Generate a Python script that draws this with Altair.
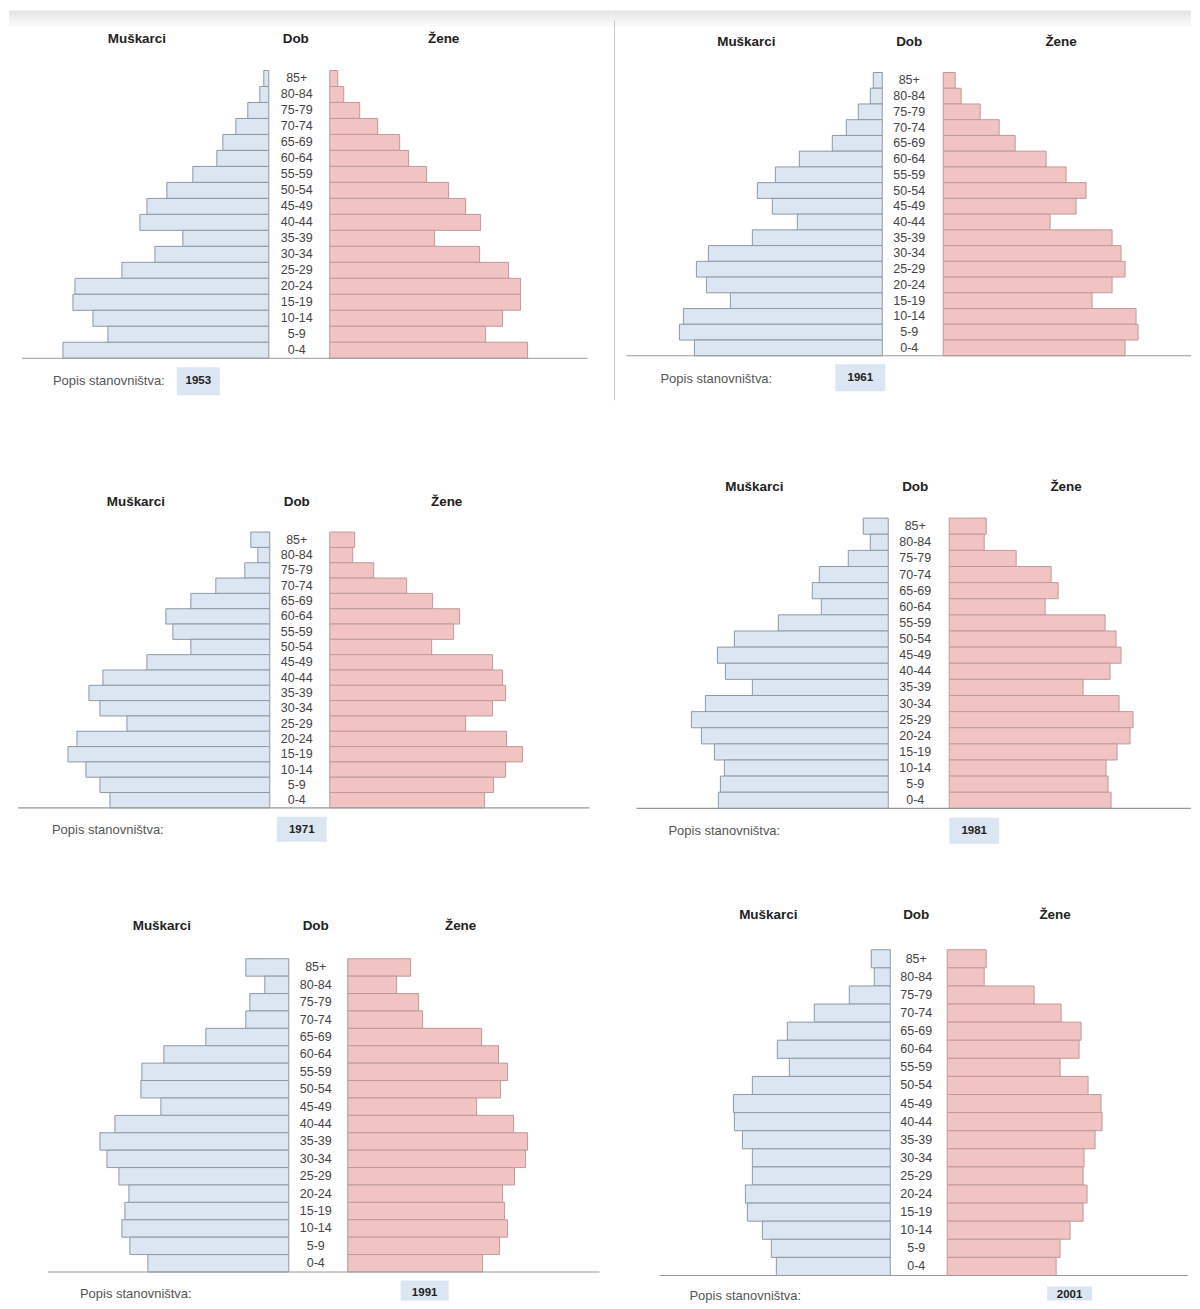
import altair as alt
import pandas as pd

# ---------------- data (bar lengths, approx. thousands) ----------------
ages = ["85+", "80-84", "75-79", "70-74", "65-69", "60-64", "55-59", "50-54", "45-49",
        "40-44", "35-39", "30-34", "25-29", "20-24", "15-19", "10-14", "5-9", "0-4"]

years = ["1953", "1961", "1971", "1981", "1991", "2001"]

male_1953 = [5, 9, 21, 33, 46, 52, 76, 102, 122, 129, 86, 114, 147, 194, 196, 176, 161, 206]
female_1953 = [8, 14, 30, 48, 70, 79, 97, 119, 136, 151, 105, 150, 179, 191, 191, 173, 156, 198]

male_1961 = [9, 12, 24, 36, 50, 83, 107, 125, 110, 85, 130, 174, 186, 176, 152, 199, 203, 188]
female_1961 = [12, 18, 37, 56, 72, 103, 123, 143, 133, 107, 169, 178, 182, 169, 149, 193, 195, 182]

male_1971 = [19, 12, 25, 54, 79, 104, 97, 79, 123, 167, 181, 170, 143, 193, 202, 184, 170, 160]
female_1971 = [25, 23, 44, 77, 103, 130, 124, 102, 163, 173, 176, 163, 136, 177, 193, 176, 164, 155]

male_1981 = [25, 18, 40, 69, 76, 67, 110, 154, 171, 163, 136, 183, 197, 187, 174, 164, 168, 170]
female_1981 = [37, 35, 67, 102, 109, 96, 156, 167, 172, 161, 134, 170, 184, 181, 168, 157, 159, 162]

male_1991 = [43, 24, 39, 43, 83, 125, 147, 148, 128, 174, 189, 182, 170, 160, 164, 167, 159, 141]
female_1991 = [63, 49, 71, 75, 134, 151, 160, 153, 129, 166, 180, 178, 167, 155, 157, 160, 152, 135]

male_2001 = [19, 16, 41, 76, 103, 113, 101, 138, 157, 156, 148, 138, 138, 145, 143, 128, 119, 114]
female_2001 = [39, 37, 87, 114, 134, 132, 113, 141, 154, 155, 148, 137, 136, 140, 136, 123, 113, 109]

hdr_men, hdr_age, hdr_women = "Muškarci", "Dob", "Žene"
footer_label = "Popis stanovništva:"

# ---------------- layout (page pixel positions) ----------------
layouts = [
    dict(ox=8, oy=8, W=604, H=400, c=299.5, g=30.5, lab=297, top=70, bot=358,
         bl=(22, 588, 358), hy=38, hx=(137, 296, 444), px=53, py=381,
         box=(177, 220, 367, 395), yx=198.5, yy=381, band=True, divider=False),
    dict(ox=612, oy=8, W=580, H=400, c=913.5, g=30.5, lab=910, top=72, bot=355.5,
         bl=(627, 1192, 355.5), hy=41, hx=(747, 910, 1062), px=661, py=378.5,
         box=(836, 886, 364, 391), yx=861, yy=378, band=True, divider=True),
    dict(ox=8, oy=408, W=604, H=450, c=300, g=30, lab=297, top=532, bot=808,
         bl=(18, 590, 808), hy=502, hx=(136, 297, 447), px=52, py=830,
         box=(277, 327, 817, 842), yx=302, yy=830, band=False, divider=False),
    dict(ox=612, oy=408, W=580, H=450, c=919.5, g=30.5, lab=916, top=518, bot=808.5,
         bl=(637, 1192, 808.5), hy=487, hx=(755, 916, 1067), px=669, py=831,
         box=(950, 1000, 818, 844), yx=975, yy=831, band=False, divider=False),
    dict(ox=8, oy=858, W=604, H=443, c=318.5, g=29.5, lab=316, top=959, bot=1272.5,
         bl=(48, 600, 1272.5), hy=926, hx=(162, 316, 461), px=80, py=1295,
         box=(401, 449, 1281, 1301), yx=425, yy=1294, band=False, divider=False),
    dict(ox=612, oy=858, W=580, H=443, c=919.5, g=28.5, lab=917, top=950, bot=1276,
         bl=(660, 1189, 1276), hy=915, hx=(769, 917, 1056), px=690, py=1297,
         box=(1048, 1093, 1287, 1301), yx=1070.5, yy=1296, band=False, divider=False),
]

series = [(male_1953, female_1953), (male_1961, female_1961), (male_1971, female_1971),
          (male_1981, female_1981), (male_1991, female_1991), (male_2001, female_2001)]

FONT = "Liberation Sans"
MALE_FILL, MALE_STROKE = "#dce6f2", "#8d99a5"
FEMALE_FILL, FEMALE_STROKE = "#f2c3c3", "#bf9a9a"

one = pd.DataFrame({"k": [0]})


def text_at(txt, x, y, L, size=12, weight="normal", color="#333", align="center"):
    return alt.Chart(one).mark_text(
        text=txt, font=FONT, fontSize=size, fontWeight=weight, color=color,
        align=align, baseline="middle"
    ).encode(x=alt.value(x - L["ox"]), y=alt.value(y - L["oy"]))


def panel(year, males, females, L):
    ox, oy, W, H, c, g = L["ox"], L["oy"], L["W"], L["H"], L["c"], L["g"]
    df = pd.DataFrame({"age": ages, "m": males, "f": females})
    xs = alt.Scale(domain=[ox - c, ox + W - c], nice=False, zero=False)
    ys = alt.Scale(domain=ages, range=[L["top"] - oy, L["bot"] - oy],
                   paddingInner=0, paddingOuter=0)

    male = alt.Chart(df).transform_calculate(
        a=f"-{g}", b=f"-{g} - datum.m"
    ).mark_bar(fill=MALE_FILL, stroke=MALE_STROKE, strokeWidth=1).encode(
        x=alt.X("a:Q", scale=xs, axis=None),
        x2="b:Q",
        y=alt.Y("age:N", scale=ys, axis=None, sort=ages),
    )
    female = alt.Chart(df).transform_calculate(
        a=f"{g}", b=f"{g} + datum.f"
    ).mark_bar(fill=FEMALE_FILL, stroke=FEMALE_STROKE, strokeWidth=1).encode(
        x=alt.X("a:Q", scale=xs, axis=None),
        x2="b:Q",
        y=alt.Y("age:N", scale=ys, axis=None, sort=ages),
    )
    labels = alt.Chart(df).mark_text(
        font=FONT, fontSize=12.5, color="#444", baseline="middle", align="center"
    ).encode(
        x=alt.value(L["lab"] - ox),
        y=alt.Y("age:N", scale=ys, axis=None, sort=ages),
        text="age:N",
    )

    x0, x1, yb = L["bl"]
    baseline = alt.Chart(one).mark_rule(color="#9a9a9a", strokeWidth=1.2).encode(
        x=alt.value(x0 - ox), x2=alt.value(x1 - ox), y=alt.value(yb - oy)
    )
    bx0, bx1, by0, by1 = L["box"]
    box = alt.Chart(one).mark_rect(color="#dce6f2").encode(
        x=alt.value(bx0 - ox), x2=alt.value(bx1 - ox),
        y=alt.value(by0 - oy), y2=alt.value(by1 - oy)
    )
    hm, hd, hz = L["hx"]
    layers = []
    if L["band"]:
        grad = alt.LinearGradient(
            gradient="linear",
            stops=[alt.GradientStop(color="#e4e4e4", offset=0),
                   alt.GradientStop(color="#ffffff", offset=1)],
            x1=0, x2=0, y1=0, y2=1,
        )
        left = max(9, ox)
        layers.append(alt.Chart(one).mark_rect(fill=grad).encode(
            x=alt.value(left - ox), x2=alt.value(W),
            y=alt.value(10 - oy), y2=alt.value(28 - oy)
        ))
    if L["divider"]:
        layers.append(alt.Chart(one).mark_rule(color="#c8c8c8", strokeWidth=1).encode(
            x=alt.value(615 - ox), y=alt.value(20 - oy), y2=alt.value(400 - oy)
        ))
    layers += [
        male, female, labels, baseline, box,
        text_at(hdr_men, hm, L["hy"], L, size=13.5, weight="bold", color="#222"),
        text_at(hdr_age, hd, L["hy"], L, size=13.5, weight="bold", color="#222"),
        text_at(hdr_women, hz, L["hy"], L, size=13.5, weight="bold", color="#222"),
        text_at(footer_label, L["px"], L["py"], L, size=13, color="#555", align="left"),
        text_at(year, L["yx"], L["yy"], L, size=11.5, weight="bold", color="#222"),
    ]
    return alt.layer(*layers).properties(width=W, height=H)


panels = [panel(y, m, f, L) for y, (m, f), L in zip(years, series, layouts)]

chart = alt.vconcat(
    alt.hconcat(panels[0], panels[1], spacing=0),
    alt.hconcat(panels[2], panels[3], spacing=0),
    alt.hconcat(panels[4], panels[5], spacing=0),
    spacing=0,
).properties(padding=0).configure_view(stroke=None).configure_concat(spacing=0)

chart.save("out.html", embed_options={"renderer": "svg", "actions": False})
